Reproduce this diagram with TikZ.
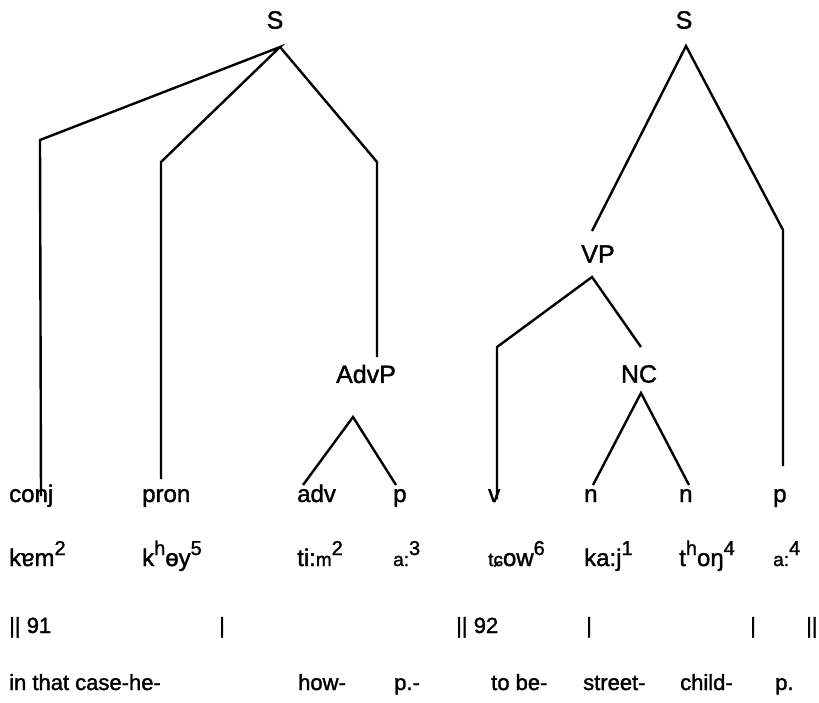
\documentclass[tikz,border=0pt]{standalone}
\usepackage{fontspec}
\setmainfont{Liberation Sans}[FakeBold=1.5]
\newcommand{\tone}[1]{\raisebox{11pt}{\fontsize{20}{20}\selectfont #1}}
\newcommand{\sm}[1]{{\fontsize{19}{19}\selectfont #1}}

\begin{document}
\begin{tikzpicture}[x=1pt, y=-1pt, line width=2.4pt,
    every node/.style={font=\fontsize{24}{28}\selectfont, inner sep=0pt},
    phr/.style={font=\fontsize{25}{29}\selectfont},
    wd/.style={anchor=base west},
    gl/.style={anchor=base west, font=\fontsize{22}{26}\selectfont}]
  \useasboundingbox (0,0) rectangle (819,702);
  % phrase labels
  \node[phr] (S1) at (275,20) {S};   \node[phr] (S2) at (684,20) {S};
  \node[phr] (AdvP) at (366,374) {AdvP};
  \node[phr] (VP) at (598,254) {VP};  \node[phr] (NC) at (639,374) {NC};
  % word classes
  \node[wd] (conj) at (8,502) {conj};  \node[wd] (pron) at (141,502) {pron};
  \node[wd] (adv) at (296,502) {adv};  \node[wd] (pA) at (392,502) {p};
  \node[wd] (v) at (487,502) {v};      \node[wd] (nA) at (583,502) {n};
  \node[wd] (nB) at (678,502) {n};     \node[wd] (pB) at (772,502) {p};
  % transcription
  \node[wd] (w1) at (8,566) {kɐm\tone{2}};
  \node[wd] (w2) at (141,566) {k\tone{h}ɵy\tone{5}};
  \node[wd] (w3) at (296,566) {ti:\sm{m}\tone{2}};
  \node[wd] (w4) at (392,566) {\sm{a:}\tone{3}};
  \node[wd] (w5) at (487,566) {\sm{tɕ}ow\tone{6}};
  \node[wd] (w6) at (583,566) {ka:j\tone{1}};
  \node[wd] (w7) at (678,566) {t\tone{h}oŋ\tone{4}};
  \node[wd] (w8) at (772,566) {\sm{a:}\tone{4}};
  % boundaries
  \node[gl] (b1) at (8,633) {|| 91};   \node[gl] (b2) at (218,633) {|};
  \node[gl] (b3) at (455,633) {|| 92}; \node[gl] (b4) at (585,633) {|};
  \node[gl] (b5) at (749,633) {|};     \node[gl] (b6) at (805,633) {||};
  % glosses
  \node[gl] (g1) at (8,690) {in that case-he-};
  \node[gl] (g2) at (297,690) {how-};   \node[gl] (g3) at (393,690) {p.-};
  \node[gl] (g4) at (490,690) {to be-}; \node[gl] (g5) at (582,690) {street-};
  \node[gl] (g6) at (679,690) {child-}; \node[gl] (g7) at (774,690) {p.};
  % branch points
  \coordinate (s1) at (280,47);  \coordinate (s2) at (686,46);
  \coordinate (k1) at (40,140);  \coordinate (k2) at (161,162);
  \coordinate (k3) at (377,162); \coordinate (k4) at (783,230);
  \coordinate (k5) at (497,347);
  \coordinate (advT) at (377,357); \coordinate (advB) at (353,417);
  \coordinate (vpT) at (592,231);  \coordinate (vpB) at (592,277);
  \coordinate (ncT) at (641,347);  \coordinate (ncB) at (641,393);
  % leaf ends
  \coordinate (conjT) at (41,496); \coordinate (pronT) at (161,479);
  \coordinate (advE) at (303,485); \coordinate (pAE) at (396,485);
  \coordinate (vE) at (497,499);   \coordinate (nAE) at (593,485);
  \coordinate (nBE) at (689,485);  \coordinate (pBE) at (783,466);
  \draw (conjT) -- (k1) -- (s1) -- (k2) -- (pronT);
  \draw (s1) -- (k3) -- (advT);
  \draw (advE) -- (advB) -- (pAE);
  \draw (vpT) -- (s2) -- (k4) -- (pBE);
  \draw (vE) -- (k5) -- (vpB) -- (ncT);
  \draw (nAE) -- (ncB) -- (nBE);
\end{tikzpicture}
\end{document}
